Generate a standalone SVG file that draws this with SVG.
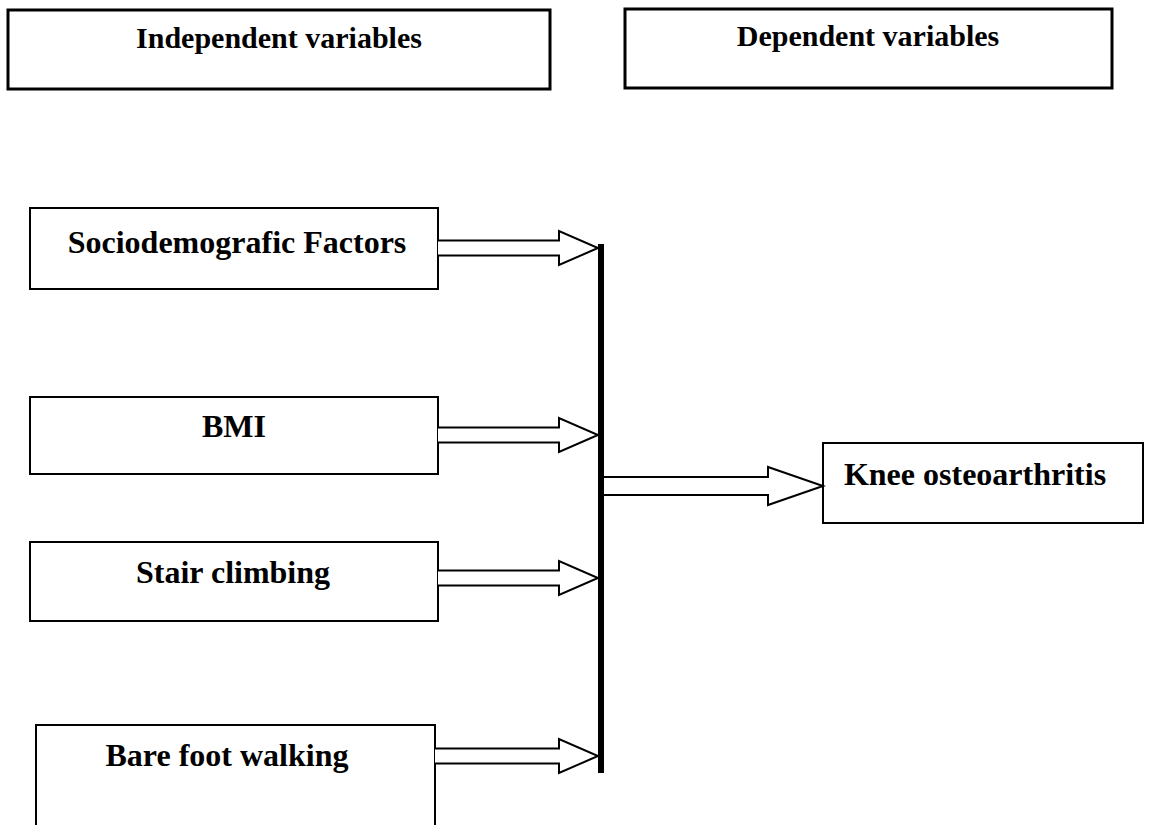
<svg xmlns="http://www.w3.org/2000/svg" width="1166" height="825" viewBox="0 0 1166 825">
<style>
.box{fill:#fff;stroke:#000;stroke-width:2}
.hdr{fill:#fff;stroke:#000;stroke-width:3}
.t{font-family:"Liberation Serif","Times New Roman",serif;font-weight:bold;fill:#000;text-anchor:middle}
.h{font-size:30px}
.b{font-size:32px}
.arr{fill:#fff;stroke:#000;stroke-width:2;stroke-linejoin:miter}
</style>
<rect width="1166" height="825" fill="#fff"/>
<g id="independent-variables">
<rect class="hdr" x="8" y="10" width="542" height="79"/>
<text class="t h" x="279" y="48">Independent variables</text>
</g>
<g id="dependent-variables">
<rect class="hdr" x="625" y="9" width="487" height="79"/>
<text class="t h" x="868" y="46">Dependent variables</text>
</g>
<g id="sociodemografic-factors">
<rect class="box" x="30" y="208" width="408" height="81"/>
<text class="t b" x="237" y="253">Sociodemografic Factors</text>
</g>
<g id="bmi">
<rect class="box" x="30" y="397" width="408" height="77"/>
<text class="t b" x="234" y="437">BMI</text>
</g>
<g id="stair-climbing">
<rect class="box" x="30" y="542" width="408" height="79"/>
<text class="t b" x="233" y="583">Stair climbing</text>
</g>
<g id="bare-foot-walking">
<path class="box" d="M36,826 V725 H435 V826"/>
<text class="t b" x="227" y="766">Bare foot walking</text>
</g>
<g id="knee-osteoarthritis">
<rect class="box" x="823" y="443" width="320" height="80"/>
<text class="t b" x="975" y="485">Knee osteoarthritis</text>
</g>
<g id="connectors">
<path class="arr" d="M438,240.5 H559 V231 L598,248 L559,265 V255.5 H438"/>
<path class="arr" d="M438,427.5 H559 V418 L598,435 L559,452 V442.5 H438"/>
<path class="arr" d="M438,570.5 H559 V561 L598,578 L559,595 V585.5 H438"/>
<path class="arr" d="M435,748.5 H559 V739 L598,756 L559,773 V763.5 H435"/>
<rect x="598" y="244" width="6" height="529" fill="#000"/>
<path class="arr" d="M604,477 H768 V467 L823,486 L768,505 V495 H604"/>
</g>
</svg>
